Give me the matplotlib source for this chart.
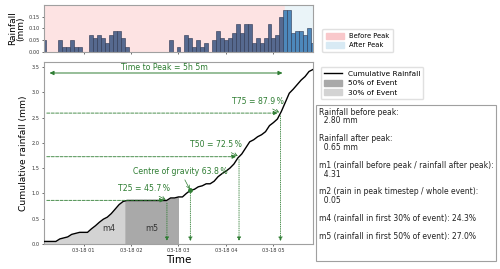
import numpy as np
import pandas as pd
import matplotlib

matplotlib.use("Agg")
import matplotlib.pyplot as plt
import matplotlib.dates as mdates
from matplotlib.lines import Line2D
from matplotlib.patches import Patch

# ── data ──────────────────────────────────────────────────────────
START = "2023-03-18 00:10"
STEP_MIN = 5
rain = [
    0.05, 0, 0, 0,
    0.05, 0.02, 0.02, 0.05, 0.02, 0.02,
    0, 0,
    0.07, 0.06, 0.07, 0.06, 0.04, 0.07, 0.09, 0.09, 0.06, 0.02,
    0, 0, 0, 0, 0, 0, 0, 0, 0, 0,
    0.05, 0, 0.02, 0,
    0.07, 0.06, 0.02, 0.05, 0.02, 0.04,
    0,
    0.05, 0.09, 0.06, 0.05, 0.06, 0.08, 0.12, 0.08, 0.12, 0.12,
    0.04, 0.06, 0.04, 0.06, 0.12, 0.06, 0.07, 0.15,
    0.18, 0.18,
    0.08, 0.09, 0.09, 0.07, 0.10, 0.04,
]
peak_idx = 61
cog_idx = 37
quartile_fracs = [0.25, 0.50, 0.75]
quartile_pcts = [45.7, 72.5, 87.9]
cog_pct = 63.8
m4_frac, m5_frac = 0.30, 0.50
stats_text = (
    "Rainfall before peak:\n  2.80 mm\n\n"
    "Rainfall after peak:\n  0.65 mm\n\n"
    "m1 (rainfall before peak / rainfall after peak):\n  4.31\n\n"
    "m2 (rain in peak timestep / whole event):\n  0.05\n\n"
    "m4 (rainfall in first 30% of event): 24.3%\n\n"
    "m5 (rainfall in first 50% of event): 27.0%\n\n"
)

GREEN = "#2e7d32"
times = pd.date_range(START, periods=len(rain), freq=f"{STEP_MIN}min")
x = mdates.date2num(times)
rain = np.array(rain)
cum = np.cumsum(rain)
total = cum[-1]
dur = x[-1] - x[0]
dx = x[1] - x[0]

fig = plt.figure(figsize=(5, 2.69), dpi=100)
ax_top = fig.add_axes([0.088, 0.807, 0.538, 0.175])
ax = fig.add_axes([0.088, 0.093, 0.538, 0.677])

# ── top panel: rainfall bars ──────────────────────────────────────
ax_top.axvspan(x[0], x[peak_idx], color="#fde3e3", zorder=0)
ax_top.axvspan(x[peak_idx], x[-1], color="#eaf4f8", zorder=0)
bar_cols = ["#56698f" if i < peak_idx else "#4d88bb" for i in range(len(rain))]
ax_top.bar(x, rain, width=dx, color=bar_cols, edgecolor="#2b3550", linewidth=0.4, zorder=2)
ax_top.set_xlim(x[0], x[-1])
ax_top.set_ylim(0, 0.2)
ax_top.set_yticks([0, 0.05, 0.10, 0.15])
ax_top.set_ylabel("Rainfall\n(mm)", fontsize=6.5, labelpad=2, linespacing=1.0)
ax_top.xaxis.set_major_locator(mdates.HourLocator())
ax_top.tick_params(labelbottom=False)
ax_top.legend(
    handles=[Patch(color="#f9c8cb", label="Before Peak"), Patch(color="#d8eaf4", label="After Peak")],
    loc="upper left", bbox_to_anchor=(0.638, 0.905), bbox_transform=fig.transFigure,
    fontsize=4.9, handlelength=2.6, handleheight=1.0, borderpad=0.55, labelspacing=0.4,
    framealpha=1, edgecolor="#e0e0e0",
)

# ── main panel: cumulative curve ──────────────────────────────────
def shade(f0, f1, color):
    xa, xb = x[0] + f0 * dur, x[0] + f1 * dur
    xs = np.concatenate([[xa], x[(x > xa) & (x < xb)], [xb]])
    ax.fill_between(xs, 0, np.interp(xs, x, cum), color=color, lw=0, zorder=1)

shade(0, m4_frac, "#d3d3d3")
shade(m4_frac, m5_frac, "#a9a9a9")
ax.plot(x, cum, color="black", lw=1.0, zorder=3)

for frac, pct in zip(quartile_fracs, quartile_pcts):
    tx = x[0] + pct / 100 * dur
    ty = frac * total
    ax.annotate("", xy=(tx, ty), xytext=(x[0], ty),
                arrowprops=dict(arrowstyle="-|>,head_length=0.25,head_width=0.12",
                                color=GREEN, lw=0.6, ls="--"))
    ax.annotate("", xy=(tx, 0), xytext=(tx, ty),
                arrowprops=dict(arrowstyle="-|>,head_length=0.25,head_width=0.12",
                                color=GREEN, lw=0.6, ls=":"))
    ax.annotate(f"T{int(frac * 100)} = {pct:.1f}\u2009%", xy=(tx, ty),
                xytext=(-23, 12), textcoords="offset pixels", ha="center", va="center",
                fontsize=5.6, color=GREEN,
                arrowprops=dict(arrowstyle="->", color=GREEN, lw=0.5, shrinkA=1, shrinkB=1))

cx, cy = x[cog_idx], cum[cog_idx]
ax.plot(cx, cy, "o", color=GREEN, ms=2.5, zorder=4)
ax.annotate("", xy=(cx, 0), xytext=(cx, cy),
            arrowprops=dict(arrowstyle="-|>,head_length=0.25,head_width=0.12",
                            color=GREEN, lw=0.6, ls=":"))
ax.annotate(f"Centre of gravity {cog_pct:.1f}\u2009%", xy=(cx, cy), xytext=(-10, 19),
            textcoords="offset pixels", ha="center", va="center", fontsize=5.6, color=GREEN,
            arrowprops=dict(arrowstyle="->", color=GREEN, lw=0.5, shrinkA=1, shrinkB=1))

ty_peak = 3.38
ax.annotate("", xy=(x[peak_idx], ty_peak), xytext=(x[0] + 0.01 * dur, ty_peak),
            arrowprops=dict(arrowstyle="<|-|>,head_length=0.25,head_width=0.12",
                            color=GREEN, lw=0.7))
ax.text((x[0] + x[peak_idx]) / 2, ty_peak + 0.02, "Time to Peak = 5h 5m",
        ha="center", va="bottom", fontsize=5.6, color=GREEN)

ax.text(x[0] + 0.24 * dur, 0.3, "m4", ha="center", va="center", fontsize=5.8, color="#333333")
ax.text(x[0] + 0.40 * dur, 0.3, "m5", ha="center", va="center", fontsize=5.8, color="#333333")

ax.set_xlim(x[0], x[-1])
ax.set_ylim(0, 3.6)
ax.set_yticks(np.arange(0, 3.6, 0.5))
ax.xaxis.set_major_locator(mdates.HourLocator())
ax.xaxis.set_major_formatter(mdates.DateFormatter("%m-%d %H"))
ax.set_xlabel("Time", fontsize=7.5, labelpad=1)
ax.set_ylabel("Cumulative rainfall (mm)", fontsize=6.6, labelpad=3)

for a in (ax, ax_top):
    a.tick_params(labelsize=3.6, length=1.5, width=0.5, pad=1.5, colors="#333333")
    for s in a.spines.values():
        s.set_color("#a0a0a0")
        s.set_linewidth(0.8)

ax.legend(
    handles=[Line2D([], [], color="black", lw=1.0, label="Cumulative Rainfall"),
             Patch(color="#a9a9a9", label="50% of Event"),
             Patch(color="#d3d3d3", label="30% of Event")],
    loc="upper left", bbox_to_anchor=(0.634, 0.765), bbox_transform=fig.transFigure,
    fontsize=5.3, handlelength=2.4, handleheight=0.9, borderpad=0.45, labelspacing=0.4,
    framealpha=1, edgecolor="#e0e0e0",
)

fig.text(0.638, 0.6, stats_text, ha="left", va="top", fontsize=5.5, linespacing=0.98,
         color="#222222",
         bbox=dict(boxstyle="square,pad=0.35", facecolor="white", edgecolor="#a0a0a0", lw=0.8))

fig.savefig("out.png", dpi=100)
